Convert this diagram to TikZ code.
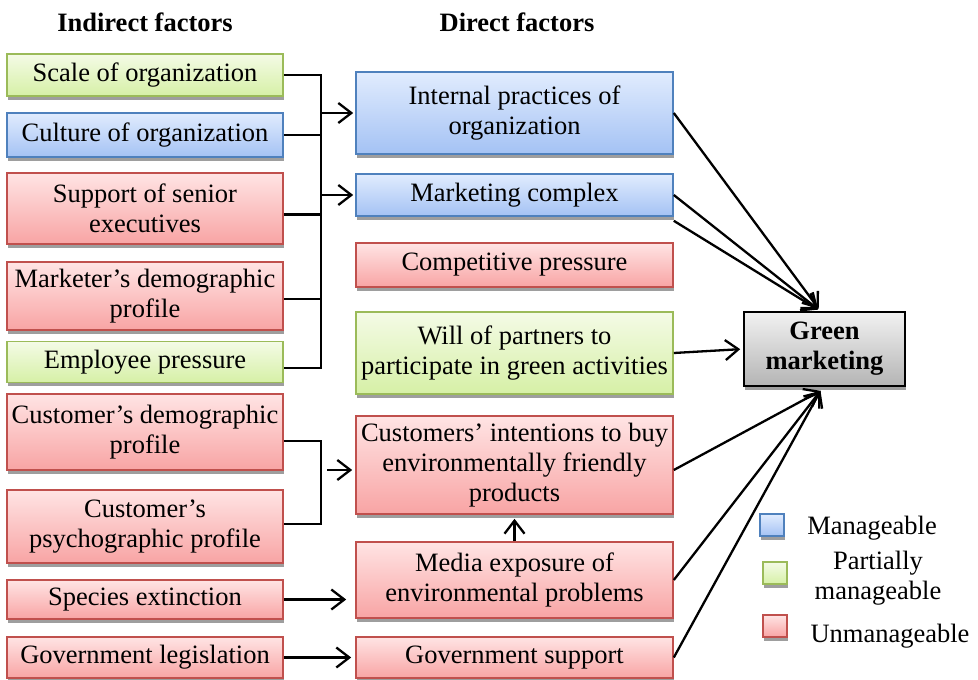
\documentclass[tikz,border=0pt]{standalone}
\usepackage{fontspec}
\setmainfont{Liberation Serif}
\usepackage{tikz}
\usetikzlibrary{positioning,arrows.meta,shadows}

\definecolor{blueline}{HTML}{4F81BD}
\definecolor{bluetop}{HTML}{E1ECFE}
\definecolor{bluebot}{HTML}{A4C2F4}
\definecolor{greenline}{HTML}{9BBB59}
\definecolor{greentop}{HTML}{F4FBE6}
\definecolor{greenbot}{HTML}{D6F0A6}
\definecolor{redline}{HTML}{C0504D}
\definecolor{redtop}{HTML}{FFE4E4}
\definecolor{redbot}{HTML}{F8A4A4}
\definecolor{greytop}{HTML}{F2F2F2}
\definecolor{greybot}{HTML}{B4B4B4}

\tikzset{
    on grid,
    x=1pt,
    y=-1pt,
    every node/.style = {font=\fontsize{26.5}{30}\selectfont},
    box/.style = {
        draw,
        shape=rectangle,
        align=center,
        inner xsep=2pt,
        inner ysep=0pt,
        line width=1.6pt,
        drop shadow={shadow xshift=1pt, shadow yshift=-3.5pt, fill=black!38, opacity=1}
    },
    manage/.style = {box, draw=blueline, top color=bluetop, bottom color=bluebot},
    partly/.style = {box, draw=greenline, top color=greentop, bottom color=greenbot},
    unmanage/.style = {box, draw=redline, top color=redtop, bottom color=redbot},
    goal/.style = {
        box,
        draw=black,
        top color=greytop,
        bottom color=greybot,
        font=\bfseries\fontsize{26.5}{30}\selectfont
    },
    indirect/.style = {minimum width=276pt},
    direct/.style = {minimum width=317pt},
    key/.style = {minimum width=24pt, minimum height=22pt, inner sep=0pt},
    empty/.style = {shape=rectangle, align=center, inner sep=0pt},
    >={Straight Barb[length=13pt, width=20pt]},
}

\begin{document}
\begin{tikzpicture}[line width=2.3pt]
    \useasboundingbox (0,0) rectangle (978,680);

    \node[empty, font=\bfseries\fontsize{26.5}{30}\selectfont] (hind) at (145,22) {Indirect factors};
    \node[empty, font=\bfseries\fontsize{26.5}{30}\selectfont] (hdir) at (517,22) {Direct factors};

    % indirect factors
    \node[partly, indirect, minimum height=42pt] (scale) at (145,75) {Scale of organization};
    \node[manage, indirect, minimum height=44pt, node distance=60pt, below of=scale] (culture) {Culture of organization};
    \node[unmanage, indirect, minimum height=71pt, node distance=73.5pt, below of=culture] (support) {Support of senior\\executives};
    \node[unmanage, indirect, minimum height=68pt, node distance=87.5pt, below of=support] (market) {Marketer's demographic\\profile};
    \node[partly, indirect, minimum height=41pt, node distance=66pt, below of=market] (empl) {Employee pressure};
    \node[unmanage, indirect, minimum height=76pt, node distance=70pt, below of=empl] (cdemo) {Customer's demographic\\profile};
    \node[unmanage, indirect, minimum height=73pt, node distance=94.5pt, below of=cdemo] (cpsy) {Customer's\\psychographic profile};
    \node[unmanage, indirect, minimum height=39pt, node distance=73pt, below of=cpsy] (species) {Species extinction};
    \node[unmanage, indirect, minimum height=41pt, node distance=58pt, below of=species] (legis) {Government legislation};

    % direct factors
    \node[manage, direct, minimum height=82pt] (intern) at (514.5,113) {Internal practices of\\organization};
    \node[manage, direct, minimum height=42pt, node distance=82pt, below of=intern] (mktg) {Marketing complex};
    \node[unmanage, direct, minimum height=44pt, node distance=70pt, below of=mktg] (compet) {Competitive pressure};
    \node[partly, direct, minimum height=82pt, node distance=88pt, below of=compet] (will) {Will of partners to\\participate in green activities};
    \node[unmanage, direct, minimum height=98pt, node distance=112pt, below of=will] (intent) {Customers' intentions to buy\\environmentally friendly\\products};
    \node[unmanage, direct, minimum height=76pt, node distance=115pt, below of=intent] (media) {Media exposure of\\environmental problems};
    \node[unmanage, direct, minimum height=41pt, node distance=77.5pt, below of=media] (govsup) {Government support};

    \node[goal, minimum width=161pt, minimum height=74pt] (gm) at (824.5,349) {Green\\marketing};

    % legend
    \node[manage, key] (kman) at (772,525) {};
    \node[empty] (lman) at (872,528) {Manageable};
    \node[partly, key] (kpart) at (775,573) {};
    \node[empty] (lpart) at (878,578) {Partially\\manageable};
    \node[unmanage, key] (kun) at (775,626) {};
    \node[empty] (lun) at (890,636) {Unmanageable};

    % organisation bus
    \coordinate (bus) at (321,0);
    \coordinate (elink) at ([yshift=-6pt]empl.east);
    \coordinate (slink) at ([yshift=-6pt]support.east);
    \coordinate (mlink) at ([yshift=-3pt]market.east);
    \path[draw] (scale.east) -| (bus |- elink) -- (elink);
    \path[draw] (culture.east) -- (culture.east -| bus);
    \path[draw] (slink) -- (slink -| bus);
    \path[draw] (mlink) -- (mlink -| bus);
    \path[draw, ->, shorten >=2pt] (intern.west -| bus) -- (intern.west);
    \path[draw, ->, shorten >=2pt] (mktg.west -| bus) -- (mktg.west);

    % customer bus
    \coordinate (dlink) at ([yshift=-9pt]cdemo.east);
    \coordinate (plink) at ([yshift=2.5pt]cpsy.east);
    \coordinate (ilink) at ([yshift=-5pt]intent.west);
    \path[draw] (dlink) -| (bus |- plink) -- (plink);
    \path[draw, ->, shorten >=3pt] ([xshift=-28pt]ilink) -- (ilink);

    \path[draw, ->, shorten >=9pt] (species.east) -- (species.east -| media.west);
    \path[draw, ->, shorten >=4pt] (legis.east) -- (govsup.west);
    \path[draw, ->, shorten >=4pt] (media.north) -- (intent.south);

    % into green marketing
    \coordinate (gtop) at ([xshift=-4pt]gm.north);
    \coordinate (gbot) at ([xshift=-4pt, yshift=-4pt]gm.south);
    \path[draw, ->, shorten >=3pt] (intern.east) -- (gtop);
    \path[draw, ->, shorten >=3pt] (mktg.east) -- (gtop);
    \path[draw, ->, shorten >=3pt] ([yshift=-4pt]mktg.south east) -- (gtop);
    \path[draw, ->, shorten >=3pt] (will.east) -- (gm.west);
    \path[draw, ->] ([yshift=-5pt]intent.east) -- (gbot);
    \path[draw, ->] (media.east) -- (gbot);
    \path[draw, ->] (govsup.east) -- (gbot);
\end{tikzpicture}
\end{document}
